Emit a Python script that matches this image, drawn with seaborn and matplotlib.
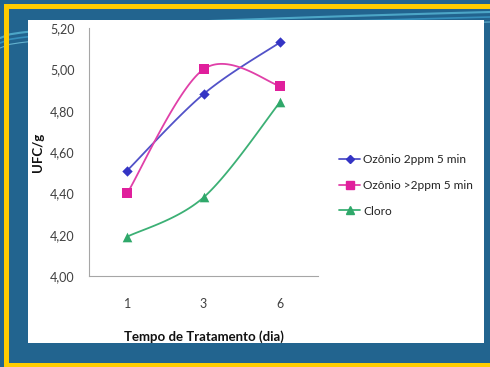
import numpy as np
import pandas as pd
import matplotlib
matplotlib.use("Agg")
import matplotlib.pyplot as plt
from matplotlib.patches import Rectangle
from matplotlib.lines import Line2D
import seaborn as sns

# ---- data ----
categories = ["1", "3", "6"]
ozonio_2ppm = [4.51, 4.88, 5.13]
ozonio_gt2ppm = [4.40, 5.00, 4.92]
cloro = [4.19, 4.38, 4.84]
series_names = ["Ozônio 2ppm 5 min", "Ozônio >2ppm 5 min", "Cloro"]
y_ticks = [4.00, 4.20, 4.40, 4.60, 4.80, 5.00, 5.20]
y_tick_labels = ["4,00", "4,20", "4,40", "4,60", "4,80", "5,00", "5,20"]

colors = ["#3434c4", "#e01f9c", "#2fa86a"]
line_colors = ["#5252c8", "#e040a8", "#3cb075"]
markers = ["D", "s", "^"]
msizes = [28, 48, 48]

sns.set_style("white")
plt.rcParams["font.family"] = ["Lato", "DejaVu Sans"]

fig = plt.figure(figsize=(4.9, 3.67), dpi=100)
fig.patch.set_facecolor("#22648f")

# decorative streaks (behind panel)
for dy, col, lw in [(0, "#5fc3df", 1.5), (5, "#3fa2cf", 1.2), (10, "#7fd3ea", 0.8)]:
    xs = np.linspace(0, 490, 50)
    ys = 367 - (38 + dy) + 26 * np.sqrt(xs / 490)
    fig.add_artist(Line2D(xs/490, ys/367, transform=fig.transFigure, color=col, lw=lw, alpha=0.7, zorder=0.1))
# white panel
fig.add_artist(Rectangle((28/490, 1-343/367), (484-28)/490, (343-20)/367,
                         transform=fig.transFigure, facecolor="white",
                         edgecolor="none", zorder=0.5))
# yellow border
yel = "#ffcc00"
fig.add_artist(Rectangle((4/490, 1-9/367), 486/490, 5/367, transform=fig.transFigure, facecolor=yel, edgecolor="none", zorder=1))
fig.add_artist(Rectangle((4/490, 0), 5/490, 1-4/367, transform=fig.transFigure, facecolor=yel, edgecolor="none", zorder=1))
fig.add_artist(Rectangle((4/490, 0), 486/490, 4/367, transform=fig.transFigure, facecolor=yel, edgecolor="none", zorder=1))

ax = fig.add_axes([89/490, 1-276/367, (318-89)/490, (276-28)/367])
ax.set_zorder(3)
ax.set_facecolor("none")

def smooth(xv, yv, n=40):
    P = np.column_stack([xv, yv]).astype(float)
    Pe = np.vstack([P[0], P, P[-1]])
    out = []
    for i in range(len(P)-1):
        p0, p1, p2, p3 = Pe[i], Pe[i+1], Pe[i+2], Pe[i+3]
        c1 = p1 + (p2 - p0) / 6
        c2 = p2 - (p3 - p1) / 6
        t = np.linspace(0, 1, n)[:, None]
        b = (1-t)**3*p1 + 3*(1-t)**2*t*c1 + 3*(1-t)*t**2*c2 + t**3*p2
        out.append(b if i == 0 else b[1:])
    return np.vstack(out)

xpos = np.arange(len(categories))
all_series = [ozonio_2ppm, ozonio_gt2ppm, cloro]
rows = []
for name, vals in zip(series_names, all_series):
    for c, x, v in zip(categories, xpos, vals):
        rows.append({"serie": name, "x": x, "valor": v})
df = pd.DataFrame(rows)

for name, vals, lc in zip(series_names, all_series, line_colors):
    curve = smooth(xpos, vals)
    sns.lineplot(x=curve[:, 0], y=curve[:, 1], ax=ax, color=lc, lw=1.3, sort=False,
                 estimator=None, legend=False)

for name, col, mk, s in zip(series_names, colors, markers, msizes):
    sub = df[df["serie"] == name]
    sns.scatterplot(data=sub, x="x", y="valor", ax=ax, color=col, marker=mk, s=s,
                    edgecolor=col, linewidth=0, legend=False, zorder=5)

ax.set_xlim(-0.5, 2.5)
ax.set_ylim(4.0, 5.2)
ax.set_yticks(y_ticks)
ax.set_yticklabels(y_tick_labels)
ax.set_xticks(xpos)
ax.set_xticklabels(categories)
ax.set_xticks([-0.5, 0.5, 1.5, 2.5], minor=True)
ax.tick_params(axis="x", which="major", length=0, pad=15.5, labelsize=9, labelcolor="#404040")
ax.tick_params(axis="x", which="minor", length=3, direction="out", color="#a6a6a6", width=0.8)
ax.tick_params(axis="y", length=3, direction="out", color="#a6a6a6", width=0.8, pad=7.5,
               labelsize=9, labelcolor="#404040")
for sp in ["top", "right"]:
    ax.spines[sp].set_visible(False)
for sp in ["left", "bottom"]:
    ax.spines[sp].set_color("#a6a6a6")
    ax.spines[sp].set_linewidth(0.8)

ax.set_xlabel("Tempo de Tratamento (dia)", fontsize=9.5, fontweight="bold", color="#111111")
ax.set_ylabel("UFC/g", fontsize=9.5, fontweight="bold", color="#111111")
ax.xaxis.set_label_coords(0.5, -(330-276)/248)
ax.yaxis.set_label_coords(-(89-44)/229, 0.5)

handles = [Line2D([0], [0], color=lc, lw=1.3, marker=mk, markersize=ms, markerfacecolor=c,
                  markeredgecolor=c)
           for lc, c, mk, ms in zip(line_colors, colors, markers, [4.5, 6, 6])]
leg = fig.legend(handles, series_names, loc="upper left", bbox_to_anchor=(328/490, 1-143/367),
                 frameon=False, fontsize=8.6, handlelength=1.8, handletextpad=0.25,
                 labelspacing=1.25, labelcolor="#222222")
leg.set_zorder(4)

fig.savefig("out.png", dpi=100, facecolor=fig.get_facecolor())
